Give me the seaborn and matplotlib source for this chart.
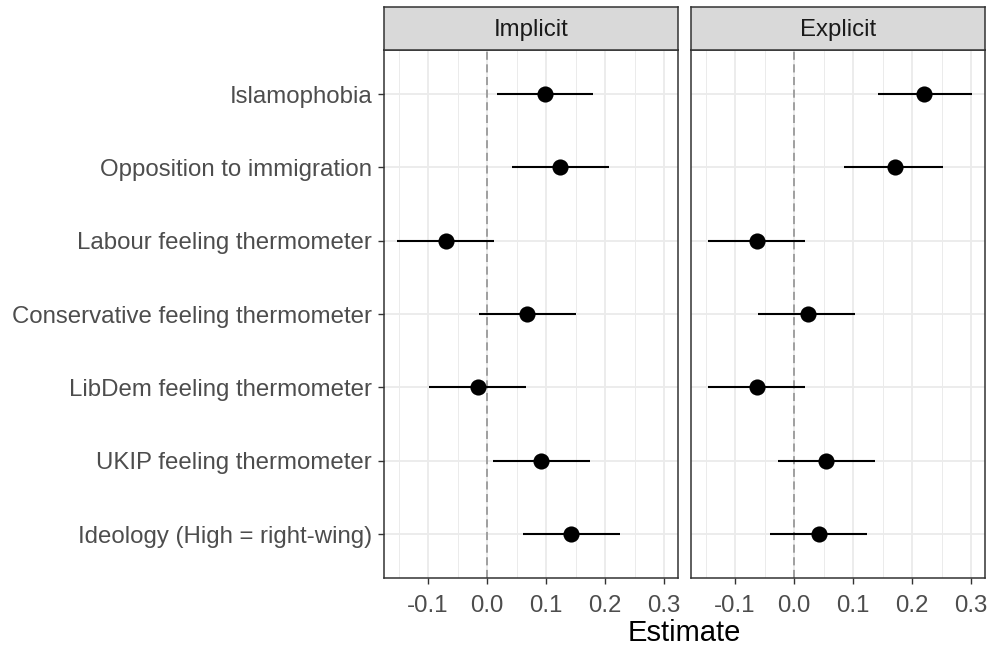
import matplotlib
matplotlib.use("Agg")
import matplotlib.pyplot as plt
import seaborn as sns
import pandas as pd
from matplotlib.ticker import FixedLocator

categories = ["Islamophobia", "Opposition to immigration", "Labour feeling thermometer",
              "Conservative feeling thermometer", "LibDem feeling thermometer",
              "UKIP feeling thermometer", "Ideology (High = right-wing)"]
panels = ["Implicit", "Explicit"]

implicit_est = [0.099, 0.124, -0.069, 0.068, -0.016, 0.092, 0.143]
implicit_lo = [0.017, 0.042, -0.152, -0.014, -0.098, 0.010, 0.061]
implicit_hi = [0.180, 0.206, 0.012, 0.150, 0.066, 0.174, 0.225]

explicit_est = [0.221, 0.171, -0.063, 0.023, -0.063, 0.055, 0.042]
explicit_lo = [0.142, 0.085, -0.146, -0.061, -0.146, -0.027, -0.040]
explicit_hi = [0.301, 0.253, 0.019, 0.104, 0.019, 0.137, 0.124]

x_ticks = [-0.1, 0.0, 0.1, 0.2, 0.3]
x_tick_labels = ["-0.1", "0.0", "0.1", "0.2", "0.3"]
x_minor = [-0.15, -0.05, 0.05, 0.15, 0.25]

sns.set_theme(style="white")
plt.rcParams['font.family'] = ['Liberation Sans', 'DejaVu Sans']

frames = []
for p, est, lo, hi in [("Implicit", implicit_est, implicit_lo, implicit_hi),
                       ("Explicit", explicit_est, explicit_lo, explicit_hi)]:
    frames.append(pd.DataFrame({"panel": p, "var": categories, "est": est, "lo": lo, "hi": hi}))
df = pd.concat(frames, ignore_index=True)

W, H = 990, 647
fig = plt.figure(figsize=(W / 100, H / 100), dpi=100)

xmin = min(df["lo"]); xmax = max(df["hi"])
rng = xmax - xmin
xlim = (xmin - 0.05 * rng, xmax + 0.05 * rng)
n = len(categories)

panel_left = [384, 691]
panel_w = 294
top_px, bot_px = 50, 578
strip_top = 7

grey20 = "#333333"
grid_c = "#EBEBEB"

for i, p in enumerate(panels):
    l = panel_left[i]
    ax = fig.add_axes([l / W, (H - bot_px) / H, panel_w / W, (bot_px - top_px) / H])
    sub = df[df["panel"] == p]
    ax.set_xlim(*xlim)
    ax.xaxis.set_major_locator(FixedLocator(x_ticks))
    ax.xaxis.set_minor_locator(FixedLocator(x_minor))
    ax.grid(True, which="major", axis="both", color=grid_c, lw=1.3, zorder=0)
    ax.grid(True, which="minor", axis="x", color=grid_c, lw=0.7, zorder=0)
    ax.set_axisbelow(True)
    ax.axvline(0, color="#9A9A9A", lw=1.3, dashes=(4.5, 2.5), zorder=1)
    ax.hlines(y=sub["var"], xmin=sub["lo"], xmax=sub["hi"], color="black", lw=1.5, zorder=2)
    sns.scatterplot(data=sub, x="est", y="var", ax=ax, color="black", s=135,
                    linewidth=0, zorder=3, legend=False)
    ax.set_ylim(n - 1 + 0.6, -0.6)
    ax.set_xticks(x_ticks)
    ax.set_xticklabels(x_tick_labels)
    ax.set_xlabel("")
    ax.set_ylabel("")
    ax.tick_params(axis="both", which="major", length=4.3, width=1, color=grey20,
                   labelsize=17.3, labelcolor="#4D4D4D", direction="out",
                   bottom=True, left=True)
    ax.tick_params(axis="x", which="major", pad=8)
    ax.tick_params(axis="y", which="major", pad=4.3)
    ax.tick_params(axis="both", which="minor", length=0)
    if i == 1:
        ax.tick_params(axis="y", left=False, labelleft=False)
    for s in ax.spines.values():
        s.set_color(grey20)
        s.set_linewidth(1.1)
        s.set_visible(True)

    sax = fig.add_axes([l / W, (H - top_px) / H, panel_w / W, (top_px - strip_top) / H])
    sax.set_facecolor("#D9D9D9")
    sax.set_xticks([]); sax.set_yticks([])
    for s in sax.spines.values():
        s.set_color(grey20)
        s.set_linewidth(1.1)
    sax.text(0.5, 0.47, p, ha="center", va="center", fontsize=17.3, color="#1A1A1A",
             transform=sax.transAxes)

fig.text((panel_left[0] + panel_left[1] + panel_w) / 2 / W, (H - 633) / H, "Estimate",
         ha="center", va="center", fontsize=21, color="black")

fig.savefig("out.png", dpi=100)
